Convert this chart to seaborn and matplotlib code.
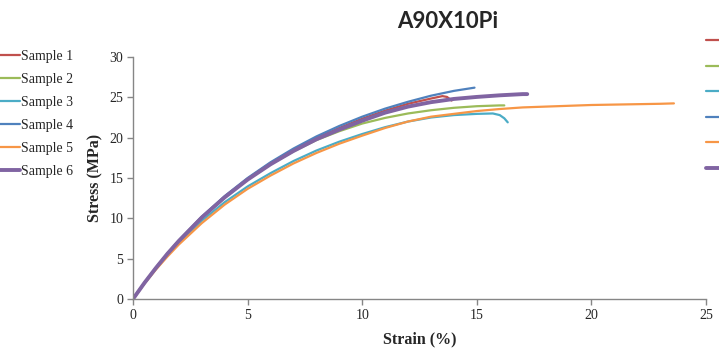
import matplotlib
matplotlib.use("Agg")
import matplotlib.pyplot as plt
from matplotlib.lines import Line2D
import seaborn as sns
import pandas as pd

# ---- data ----
s1_strain = [0, 0.5, 1, 1.5, 2, 3, 4, 5, 6, 7, 8, 9, 10, 11, 12, 13, 13.5, 13.7, 13.9]
s1_stress = [0, 2.0, 3.87, 5.6, 7.22, 10.15, 12.7, 14.9, 16.85, 18.5, 19.95, 21.2, 22.35, 23.35, 24.2, 24.85, 25.15, 25.05, 24.6]

s2_strain = [0, 0.5, 1, 1.5, 2, 3, 4, 5, 6, 7, 8, 9, 10, 11, 12, 13, 14, 15, 16, 16.2]
s2_stress = [0, 2.0, 3.85, 5.6, 7.2, 10.1, 12.6, 14.8, 16.7, 18.3, 19.7, 20.8, 21.75, 22.45, 23.0, 23.4, 23.7, 23.9, 24.0, 24.0]

s3_strain = [0, 0.5, 1, 1.5, 2, 3, 4, 5, 6, 7, 8, 9, 10, 11, 12, 13, 14, 15, 15.7, 16.0, 16.2, 16.35]
s3_stress = [0, 1.95, 3.75, 5.4, 6.95, 9.7, 12.0, 13.95, 15.6, 17.1, 18.4, 19.5, 20.45, 21.3, 22.0, 22.5, 22.8, 22.95, 23.0, 22.8, 22.4, 21.9]

s4_strain = [0, 0.5, 1, 1.5, 2, 3, 4, 5, 6, 7, 8, 9, 10, 11, 12, 13, 14, 14.9]
s4_stress = [0, 2.01, 3.88, 5.63, 7.26, 10.2, 12.76, 15.0, 16.95, 18.65, 20.15, 21.45, 22.6, 23.6, 24.45, 25.2, 25.8, 26.2]

s5_strain = [0, 0.5, 1, 1.5, 2, 3, 4, 5, 6, 7, 8, 9, 10, 11, 12, 13, 14, 15, 16, 17, 18, 19, 20, 21, 22, 23, 23.6]
s5_stress = [0, 1.9, 3.65, 5.25, 6.75, 9.4, 11.7, 13.65, 15.3, 16.8, 18.1, 19.25, 20.25, 21.2, 22.0, 22.6, 22.95, 23.3, 23.55, 23.75, 23.85, 23.95, 24.05, 24.1, 24.15, 24.2, 24.25]

s6_strain = [0, 0.5, 1, 1.5, 2, 3, 4, 5, 6, 7, 8, 9, 10, 11, 12, 13, 14, 15, 16, 17, 17.2]
s6_stress = [0, 2.0, 3.85, 5.6, 7.2, 10.1, 12.6, 14.8, 16.7, 18.35, 19.8, 21.0, 22.1, 23.1, 23.85, 24.4, 24.8, 25.05, 25.25, 25.4, 25.4]

labels = ["Sample 1", "Sample 2", "Sample 3", "Sample 4", "Sample 5", "Sample 6"]
x_ticks = [0, 5, 10, 15, 20, 25]
y_ticks = [0, 5, 10, 15, 20, 25, 30]
title = "A90X10Pi"

series = [(s1_strain, s1_stress), (s2_strain, s2_stress), (s3_strain, s3_stress),
          (s4_strain, s4_stress), (s5_strain, s5_stress), (s6_strain, s6_stress)]
colors = ["#C0504D", "#9BBB59", "#4BACC6", "#4F81BD", "#F79646", "#8064A2"]
widths = [1.6, 1.6, 1.6, 1.6, 1.6, 2.8]

sns.set_style("white")
serif = ["Liberation Serif", "DejaVu Serif"]

fig = plt.figure(figsize=(7.19, 3.52), dpi=100)
ax = fig.add_axes([133 / 719, 53 / 352, (706 - 133) / 719, (299 - 57) / 352])

for (xs, ys), lab, c, w in zip(series, labels, colors, widths):
    df = pd.DataFrame({"strain": xs, "stress": ys})
    sns.lineplot(data=df, x="strain", y="stress", ax=ax, color=c, linewidth=w,
                 sort=False, estimator=None, legend=False)

ax.set_xlim(0, 25)
ax.set_ylim(0, 30)
ax.set_xticks(x_ticks)
ax.set_yticks(y_ticks)
ax.set_xticklabels([str(t) for t in x_ticks], family=serif, fontsize=10)
ax.set_yticklabels([str(t) for t in y_ticks], family=serif, fontsize=10)
ax.tick_params(axis="both", direction="out", length=4, width=1, color="#868686",
               pad=3, bottom=True, left=True)
for side in ["top", "right"]:
    ax.spines[side].set_visible(False)
for side in ["left", "bottom"]:
    ax.spines[side].set_color("#868686")
    ax.spines[side].set_linewidth(1)

ax.set_xlabel("Strain (%)", family=serif, fontsize=11.5, fontweight="bold", labelpad=7)
ax.set_ylabel("Stress (MPa)", family=serif, fontsize=11.5, fontweight="bold", labelpad=4)

fig.text(448 / 719, 1 - 22 / 352, title, ha="center", va="center",
         fontsize=16, fontweight="bold", family=["Lato", "DejaVu Sans"])

handles = [Line2D([0], [0], color=c, linewidth=w) for c, w in zip(colors, widths)]
leg1 = fig.legend(handles, labels, loc="upper left", bbox_to_anchor=(-0.002, 1 - 50 / 352),
                  frameon=False, prop={"family": serif, "size": 10},
                  handlelength=1.55, handletextpad=0.05, labelspacing=0.72,
                  borderaxespad=0, borderpad=0)
leg2 = fig.legend(handles, labels, loc="upper left", bbox_to_anchor=(706 / 719, 1 - 35 / 352),
                  frameon=False, prop={"family": serif, "size": 10},
                  handlelength=1.55, handletextpad=0.05, labelspacing=0.9,
                  borderaxespad=0, borderpad=0)

fig.savefig("out.png", dpi=100)
